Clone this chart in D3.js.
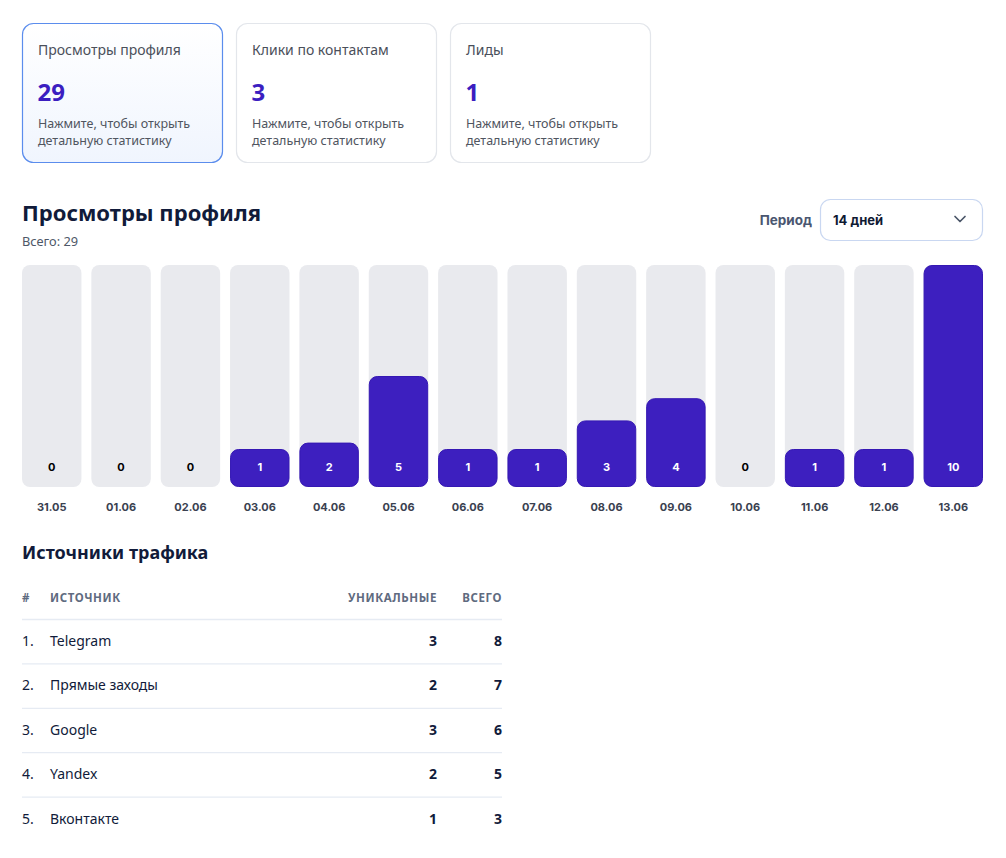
<!DOCTYPE html>
<html>
<head>
	<meta charset="utf-8">
	<title>Просмотры профиля</title>
	<style>
		html, body {
			margin: 0;
			padding: 0;
			background: #fff;
			font-family: 'Noto Sans', 'Open Sans', sans-serif;
		}
		svg { display: block; }
		.num { font-family: Inter, 'Noto Sans', sans-serif; font-weight: 700; }
	</style>
</head>
<body>
	<svg id="chart" width="1006" height="858"></svg>
	<script src="https://cdn.jsdelivr.net/npm/d3@7/dist/d3.min.js"></script>
	<script>
		// summary cards
		var cardTitles = ['Просмотры профиля', 'Клики по контактам', 'Лиды'];
		var cardValues = [29, 3, 1];

		// daily views
		var days = ['31.05', '01.06', '02.06', '03.06', '04.06', '05.06', '06.06',
			'07.06', '08.06', '09.06', '10.06', '11.06', '12.06', '13.06'];
		var views = [0, 0, 0, 1, 2, 5, 1, 1, 3, 4, 0, 1, 1, 10];

		// traffic sources
		var sources = ['Telegram', 'Прямые заходы', 'Google', 'Yandex', 'Вконтакте'];
		var uniques = [3, 2, 3, 2, 1];
		var totals = [8, 7, 6, 5, 3];

		var svg = d3.select('#chart');

		// gradient for the active card
		var grad = svg.append('defs').append('linearGradient')
			.attr('id', 'activeGrad').attr('x1', 0).attr('y1', 0).attr('x2', 0).attr('y2', 1);
		grad.append('stop').attr('offset', '0%').attr('stop-color', '#ffffff');
		grad.append('stop').attr('offset', '100%').attr('stop-color', '#f0f5fe');

		// --- cards ---
		var card = svg.selectAll('g.card')
			.data(cardTitles)
			.join('g')
			.attr('class', 'card')
			.attr('transform', function (d, i) { return 'translate(' + (22.5 + i * 214) + ',23.5)'; });

		card.append('rect')
			.attr('width', 200).attr('height', 139).attr('rx', 11)
			.attr('fill', function (d, i) { return i === 0 ? 'url(#activeGrad)' : '#fff'; })
			.attr('stroke', function (d, i) { return i === 0 ? '#5b8ded' : '#e3e6eb'; })
			.attr('stroke-width', 1.2);

		card.append('text')
			.attr('x', 15.5).attr('y', 31)
			.attr('font-size', 14).attr('fill', '#4a4f5a')
			.text(function (d) { return d; });

		card.append('text')
			.attr('x', 15).attr('y', 77)
			.attr('font-size', 24).attr('font-weight', 700).attr('fill', '#3b1ec0')
			.text(function (d, i) { return cardValues[i]; });

		card.append('text')
			.attr('x', 15.5).attr('y', 104)
			.attr('font-size', 12.5).attr('fill', '#50555f')
			.text('Нажмите, чтобы открыть');
		card.append('text')
			.attr('x', 15.5).attr('y', 121)
			.attr('font-size', 12.5).attr('fill', '#50555f')
			.text('детальную статистику');

		// --- chart header ---
		svg.append('text')
			.attr('x', 22).attr('y', 221)
			.attr('font-size', 22).attr('font-weight', 700).attr('fill', '#111b3a')
			.text(cardTitles[0]);
		svg.append('text')
			.attr('x', 22).attr('y', 246)
			.attr('font-size', 12.8).attr('fill', '#4e5868')
			.text('Всего: ' + d3.sum(views));

		svg.append('text')
			.attr('class', 'num')
			.attr('x', 812).attr('y', 225).attr('text-anchor', 'end')
			.attr('font-size', 13.5).attr('fill', '#4a5670')
			.text('Период');
		svg.append('rect')
			.attr('x', 820.5).attr('y', 199.5).attr('width', 162).attr('height', 41).attr('rx', 10)
			.attr('fill', '#fff').attr('stroke', '#c9d7f1').attr('stroke-width', 1.2);
		svg.append('text')
			.attr('class', 'num')
			.attr('x', 833).attr('y', 224.5)
			.attr('font-size', 13).attr('fill', '#0f1a33')
			.text('14 дней');
		svg.append('path')
			.attr('d', 'M955,216.5L960,221.5L965,216.5')
			.attr('fill', 'none').attr('stroke', '#4a5568').attr('stroke-width', 1.7)
			.attr('stroke-linecap', 'round').attr('stroke-linejoin', 'round');

		// --- bars ---
		var plotTop = 265, plotBottom = 487, minH = 38;
		var x = d3.scaleBand().domain(days).range([22, 983]).paddingInner(0.143).paddingOuter(0);
		var y = d3.scaleLinear().domain([0, d3.max(views)]).range([plotBottom, plotTop]);

		function barH(v) {
			return v > 0 ? Math.max(minH, plotBottom - y(v)) : 0;
		}

		var bar = svg.selectAll('g.bar')
			.data(days)
			.join('g')
			.attr('class', 'bar');

		bar.append('rect')
			.attr('x', function (d) { return x(d); })
			.attr('y', plotTop)
			.attr('width', x.bandwidth())
			.attr('height', plotBottom - plotTop)
			.attr('rx', 8)
			.attr('fill', '#e9eaee');

		bar.filter(function (d, i) { return views[i] > 0; })
			.append('rect')
			.attr('x', function (d) { return x(d) + 0.5; })
			.attr('y', function (d) { return plotBottom - barH(views[days.indexOf(d)]) + 0.5; })
			.attr('width', x.bandwidth() - 1)
			.attr('height', function (d) { return barH(views[days.indexOf(d)]) - 1; })
			.attr('rx', 8)
			.attr('fill', '#3d1fbf')
			.attr('stroke', '#3518b3').attr('stroke-width', 1);

		bar.append('text')
			.attr('class', 'num')
			.attr('x', function (d) { return x(d) + x.bandwidth() / 2; })
			.attr('y', 471)
			.attr('text-anchor', 'middle')
			.attr('font-size', 11)
			.attr('fill', function (d, i) { return views[i] > 0 ? '#fff' : '#000'; })
			.text(function (d, i) { return views[i]; });

		// date axis
		var xAxis = d3.axisBottom(x).tickSize(0).tickPadding(0);
		var ax = svg.append('g').attr('transform', 'translate(0,503)').call(xAxis);
		ax.select('.domain').remove();
		ax.selectAll('text')
			.attr('class', 'num')
			.attr('font-size', 11)
			.attr('fill', '#3a4150');

		// --- sources table ---
		svg.append('text')
			.attr('x', 22).attr('y', 559)
			.attr('font-size', 18).attr('font-weight', 700).attr('fill', '#111b3a')
			.text('Источники трафика');

		var head = svg.append('g').attr('font-size', 11.5).attr('font-weight', 700)
			.attr('fill', '#5f6b80').attr('letter-spacing', 0.6);
		head.append('text').attr('x', 22).attr('y', 602).text('#');
		head.append('text').attr('x', 50).attr('y', 602).text('ИСТОЧНИК');
		head.append('text').attr('x', 437).attr('y', 602).attr('text-anchor', 'end').text('УНИКАЛЬНЫЕ');
		head.append('text').attr('x', 502).attr('y', 602).attr('text-anchor', 'end').text('ВСЕГО');

		var rowY = d3.scaleLinear().domain([0, 1]).range([619, 663.4]);

		var row = svg.selectAll('g.row')
			.data(sources)
			.join('g')
			.attr('class', 'row')
			.attr('transform', function (d, i) { return 'translate(0,' + rowY(i) + ')'; })
			.attr('font-size', 14).attr('fill', '#111b3a');

		row.append('line')
			.attr('x1', 22).attr('x2', 502).attr('y1', 0.5).attr('y2', 0.5)
			.attr('stroke', '#e6ebf3').attr('stroke-width', 1.3);

		row.append('text').attr('x', 22).attr('y', 27).text(function (d, i) { return (i + 1) + '.'; });
		row.append('text').attr('x', 50).attr('y', 27).text(function (d) { return d; });
		row.append('text').attr('x', 437).attr('y', 27).attr('text-anchor', 'end').attr('font-weight', 700)
			.text(function (d, i) { return uniques[i]; });
		row.append('text').attr('x', 502).attr('y', 27).attr('text-anchor', 'end').attr('font-weight', 700)
			.text(function (d, i) { return totals[i]; });
	</script>
</body>
</html>
